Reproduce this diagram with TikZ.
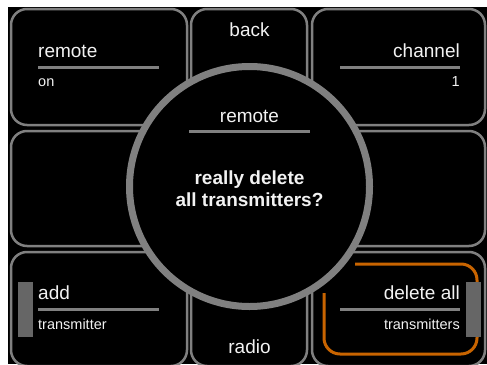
\documentclass[tikz,border=0pt]{standalone}
\usepackage{fontspec}
\setmainfont{Liberation Sans}
\definecolor{lineg}{HTML}{808080}
\definecolor{barg}{HTML}{666666}
\definecolor{orng}{HTML}{C86400}
\definecolor{txt}{HTML}{F2F2F2}
\begin{document}
\begin{tikzpicture}[x=1pt,y=-1pt,
 box/.style={draw=lineg, line width=2.5pt, rounded corners=16pt, fill=black, inner sep=0pt, outer sep=0pt},
 big/.style={text=txt, font=\fontsize{19}{22}\selectfont, inner sep=0pt},
 small/.style={text=txt, font=\fontsize{14.5}{17}\selectfont, inner sep=0pt},
 bold/.style={text=txt, font=\fontsize{19}{22}\selectfont\bfseries, inner sep=0pt},
 rule/.style={draw=lineg, line width=3pt},
 bar/.style={fill=barg},
 sel/.style={draw=orng, line width=3pt, rounded corners=16pt}]
\useasboundingbox (0,0) rectangle (487,364);
\fill[white] (0,0) rectangle (487,364);
\fill[black] (8,7) rectangle (487,364);
\begin{scope}
\clip (8,7) rectangle (487,364);
% boxes
\node[box, minimum width=176pt, minimum height=116pt] (tl) at (99,67) {};
\node[box, minimum width=116pt, minimum height=116pt] (tm) at (249,67) {};
\node[box, minimum width=173pt, minimum height=116pt] (tr) at (398.5,67) {};
\node[box, minimum width=176pt, minimum height=115pt] (ml) at (99,188.5) {};
\node[box, minimum width=116pt, minimum height=115pt] (mm) at (249,188.5) {};
\node[box, minimum width=173pt, minimum height=115pt] (mr) at (398.5,188.5) {};
\node[box, minimum width=176pt, minimum height=114pt] (bl) at (99,309) {};
\node[box, minimum width=116pt, minimum height=114pt] (bm) at (249,309) {};
\node[box, minimum width=173pt, minimum height=114pt] (br) at (398.5,309) {};
% selection outline
\draw[sel] (355,264) -- (477,264) -- (477,354) -- (324,354) -- (324,293);
\end{scope}
% top-left
\node[big, anchor=base west] (tlt) at (38,57) {remote};
\draw[rule] (38,67.5) -- (159,67.5);
\node[small, anchor=base west] (tls) at (38,86) {on};
% top-middle
\node[big, anchor=base] (tmt) at (249.5,36) {back};
% top-right
\node[big, anchor=base east] (trt) at (460,57) {channel};
\draw[rule] (340,67.5) -- (460,67.5);
\node[small, anchor=base east] (trs) at (460,86) {1};
% bottom-left
\fill[bar] (18,282) rectangle (33,337);
\node[big, anchor=base west] (blt) at (38,299) {add};
\draw[rule] (38,309) -- (159,309);
\node[small, anchor=base west] (bls) at (38,329) {transmitter};
% bottom-middle
\node[big, anchor=base] (bmt) at (249.5,353) {radio};
% bottom-right
\fill[bar] (466,282) rectangle (481,337);
\node[big, anchor=base east] (brt) at (460,299) {delete all};
\draw[rule] (340,309) -- (460,309);
\node[small, anchor=base east] (brs) at (460,329) {transmitters};
% dialog
\node[circle, draw=lineg, line width=7pt, fill=black, minimum size=240pt, inner sep=0pt] (dlg) at (249.5,186.5) {};
\node[big, anchor=base] (dlt) at (249.5,122.5) {remote};
\draw[rule] (189,131) -- (310,131);
\node[bold, anchor=base] (q1) at (249.5,184) {really delete};
\node[bold, anchor=base] (q2) at (249.5,206) {all transmitters?};
\end{tikzpicture}
\end{document}
